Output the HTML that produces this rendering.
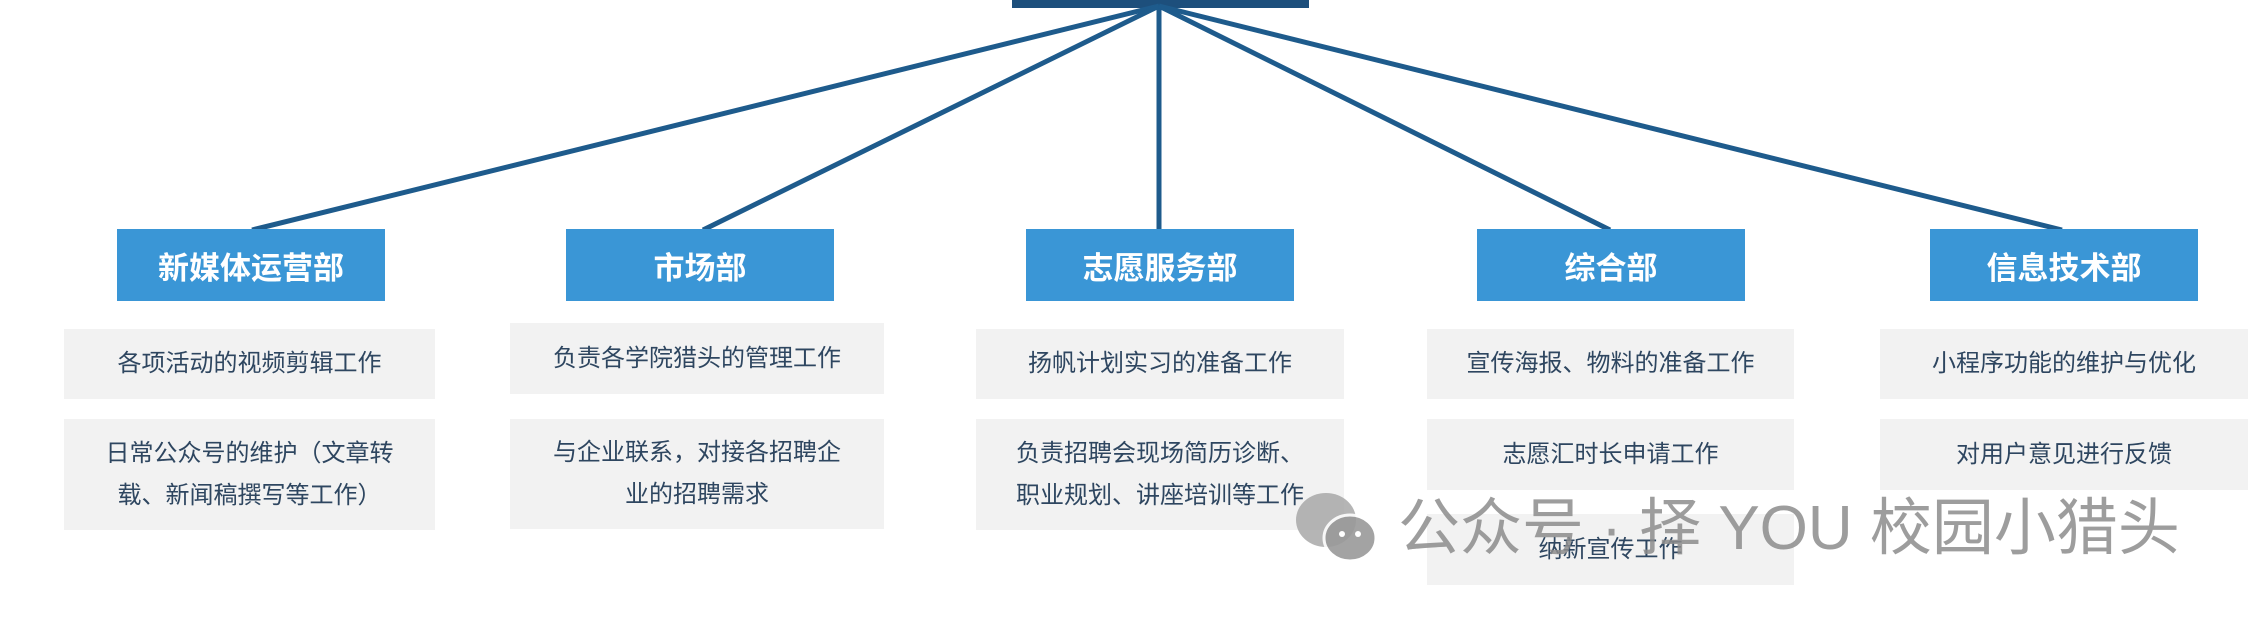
<!DOCTYPE html>
<html><head><meta charset="utf-8"><style>
body{margin:0;width:2268px;height:622px;background:#fff;position:relative;overflow:hidden;font-family:"Liberation Sans","Noto Sans CJK SC",sans-serif}
.h{position:absolute;top:229px;width:268px;height:72px;background:#3a96d6;color:#fff;font-size:31px;display:flex;align-items:center;justify-content:center;font-weight:bold}
.t{position:absolute;background:#f2f2f2;color:#2e4660;font-size:24px;display:flex;align-items:center;justify-content:center;text-align:center;line-height:42px}
</style></head><body>
<svg width="2268" height="622" style="position:absolute;left:0;top:0">
<rect x="1012" y="0" width="297" height="8" fill="#1d4f7c"/>
<g stroke="#1e5b8c" stroke-width="5" fill="none">
<line x1="1159" y1="6" x2="252" y2="230"/>
<line x1="1159" y1="6" x2="703" y2="230"/>
<line x1="1159" y1="6" x2="1159" y2="230"/>
<line x1="1159" y1="6" x2="1610" y2="230"/>
<line x1="1159" y1="6" x2="2062" y2="230"/>
</g></svg>
<div class="h" style="left:117px">新媒体运营部</div>
<div class="h" style="left:566px">市场部</div>
<div class="h" style="left:1026px">志愿服务部</div>
<div class="h" style="left:1477px">综合部</div>
<div class="h" style="left:1930px">信息技术部</div>

<div class="t" style="left:64px;top:329px;width:371px;height:70px">各项活动的视频剪辑工作</div>
<div class="t" style="left:64px;top:419px;width:371px;height:111px">日常公众号的维护（文章转<br>载、新闻稿撰写等工作）</div>
<div class="t" style="left:510px;top:323px;width:374px;height:71px">负责各学院猎头的管理工作</div>
<div class="t" style="left:510px;top:419px;width:374px;height:110px">与企业联系，对接各招聘企<br>业的招聘需求</div>
<div class="t" style="left:976px;top:329px;width:368px;height:70px">扬帆计划实习的准备工作</div>
<div class="t" style="left:976px;top:419px;width:368px;height:111px">负责招聘会现场简历诊断、<br>职业规划、讲座培训等工作</div>
<div class="t" style="left:1427px;top:329px;width:367px;height:70px">宣传海报、物料的准备工作</div>
<div class="t" style="left:1427px;top:419px;width:367px;height:71px">志愿汇时长申请工作</div>
<div class="t" style="left:1427px;top:514px;width:367px;height:71px">纳新宣传工作</div>
<div class="t" style="left:1880px;top:329px;width:368px;height:70px">小程序功能的维护与优化</div>
<div class="t" style="left:1880px;top:419px;width:368px;height:71px">对用户意见进行反馈</div>

<svg width="95" height="80" style="position:absolute;left:1290px;top:488px">
<ellipse cx="36" cy="32" rx="30" ry="27" fill="#a8a8a8" opacity=".85"/>
<ellipse cx="60" cy="50" rx="26" ry="23" fill="#9a9a9a" stroke="#fff" stroke-width="3" opacity=".9"/>
<circle cx="52" cy="46" r="3" fill="#fff"/><circle cx="68" cy="46" r="3" fill="#fff"/>
</svg>
<div style="position:absolute;left:1398px;top:494px;font-size:62px;color:rgba(140,140,140,.85);white-space:nowrap;line-height:70px">公众号 · 择 YOU 校园小猎头</div>
</body></html>
